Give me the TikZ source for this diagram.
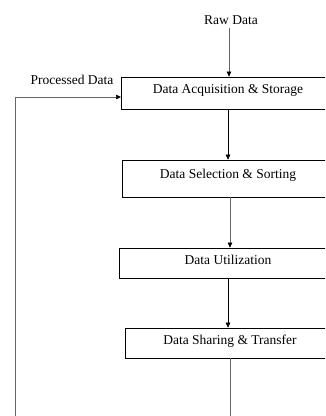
\documentclass[tikz,border=0pt]{standalone}
\usepackage{fontspec}
\setmainfont{Liberation Serif}
\usetikzlibrary{positioning, arrows.meta}

\begin{document}
\begin{tikzpicture}[
    x=1pt, y=-1pt,
    stage/.style={rectangle, draw=black, line width=0.7pt, fill=white, text centered, text depth=7pt, font=\fontsize{13.5}{15}\selectfont},
    arrow/.style={-{Triangle[length=5pt, width=4.5pt, color=black, fill=black]}, line width=0.6pt},
    flow/.style={line width=0.6pt, draw=black!60},
    every node/.style={font=\fontsize{13.5}{15}\selectfont}
    ]

    % Lienzo y recorte
    \useasboundingbox (0,0) rectangle (325,416);
    \clip (0,0) rectangle (325,416);

    % Etapas
    \node (Raw) at (231,20) {Raw Data};
    \node[stage, minimum width=214pt, minimum height=32pt] (Acquisition) at (228,93) {Data Acquisition \& Storage};
    \node[stage, minimum width=212pt, minimum height=37pt, text depth=10pt] (Selection) at (228,178.5) {Data Selection \& Sorting};
    \node[stage, minimum width=218pt, minimum height=30pt] (Utilization) at (228,263) {Data Utilization};
    \node[stage, minimum width=210pt, minimum height=30pt] (Sharing) at (230,343) {Data Sharing \& Transfer};
    \node (Processed) at (72,80) {Processed Data};

    % Puntos libres del lazo
    \coordinate (SharingOut) at (230,420);
    \coordinate (LoopOut) at (15,420);
    \coordinate (LoopIn) at (121,97);

    % Conexiones
    \draw[arrow, draw=black!60] (Raw.south -| 229,0) -- (Acquisition.north -| 229,0);
    \draw[arrow] (Acquisition.south -| 228,0) -- (Selection.north -| 228,0);
    \draw[arrow, draw=black!60] (Selection.south -| 230,0) -- (Utilization.north -| 230,0);
    \draw[arrow] (Utilization.south -| 228,0) -- (Sharing.north -| 228,0);
    \draw[flow] (Sharing.south -| 230,0) -- (SharingOut);
    \draw[arrow, draw=black!60] (LoopOut) |- (LoopIn);

\end{tikzpicture}
\end{document}
